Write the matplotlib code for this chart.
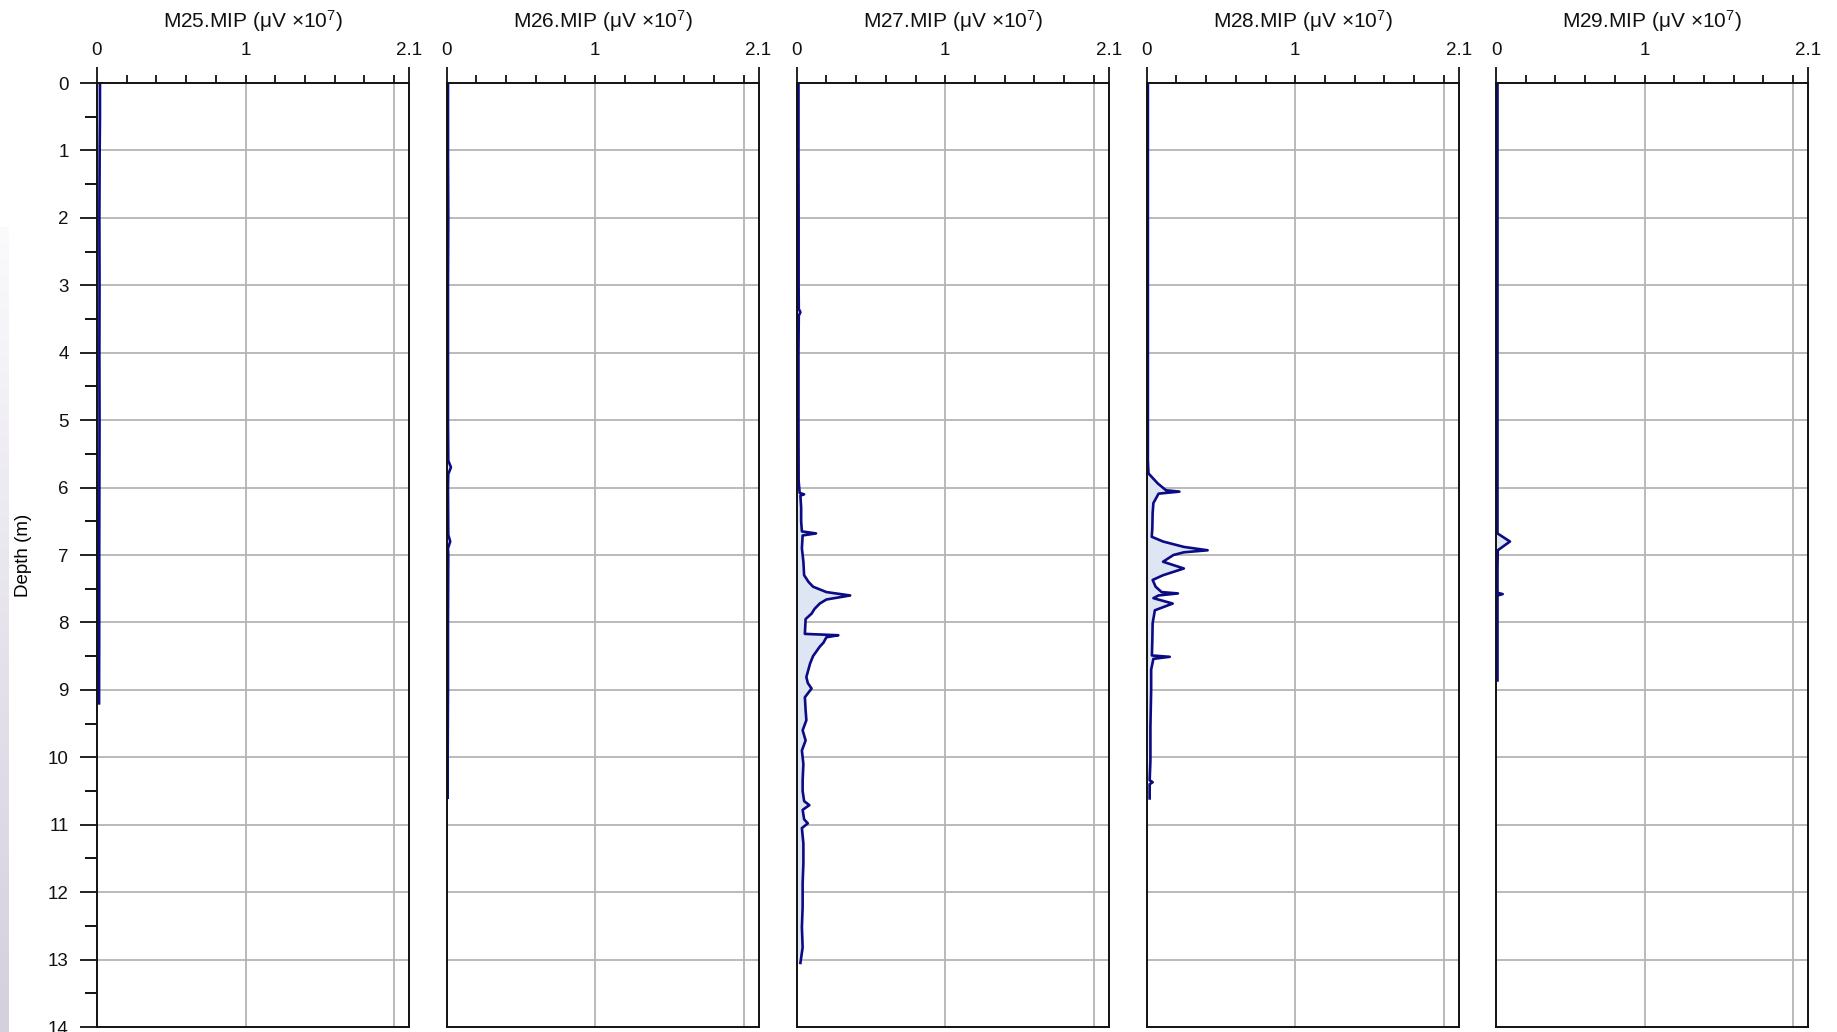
import matplotlib
matplotlib.use('Agg')
import matplotlib.pyplot as plt
from matplotlib.colors import LinearSegmentedColormap
import numpy as np

plt.rcParams['font.family'] = ['Liberation Sans', 'DejaVu Sans']
plt.rcParams['mathtext.default'] = 'regular'

# --- data (depth in m, value in uV x 10^7) ---
names = ['M25.MIP', 'M26.MIP', 'M27.MIP', 'M28.MIP', 'M29.MIP']

m25_depth = [0, 0.5, 1, 2, 3, 4, 5, 6, 7, 8, 9, 9.2]
m25_val = [0.02, 0.02, 0.018, 0.016, 0.017, 0.016, 0.017, 0.016, 0.015, 0.015, 0.014, 0.014]

m26_depth = [0, 1, 2, 3, 4, 5, 5.6, 5.7, 5.8, 6, 6.7, 6.8, 6.9, 7, 8, 9, 10, 10.6]
m26_val = [0.01, 0.01, 0.012, 0.01, 0.01, 0.01, 0.012, 0.03, 0.012, 0.01, 0.012, 0.025, 0.01,
           0.012, 0.01, 0.01, 0.008, 0.008]

m27_depth = [0, 1, 2, 3, 3.35, 3.4, 3.45, 4, 5, 5.9, 6.08, 6.1, 6.12, 6.3, 6.5, 6.65, 6.68, 6.71,
             6.9, 7.1, 7.3, 7.4, 7.47, 7.55, 7.6, 7.66, 7.72, 7.8, 7.87, 7.95, 8.17, 8.19, 8.22,
             8.3, 8.36, 8.5, 8.61, 8.81, 8.9, 8.98, 9.11, 9.3, 9.45, 9.6, 9.75, 9.9, 10.1, 10.34,
             10.5, 10.65, 10.71, 10.78, 10.92, 10.98, 11.05, 11.28, 11.57, 11.87, 12.22, 12.52,
             12.82, 13.05]
m27_val = [0.012, 0.012, 0.013, 0.013, 0.014, 0.025, 0.014, 0.012, 0.012, 0.013, 0.02, 0.05,
           0.025, 0.03, 0.03, 0.035, 0.13, 0.04, 0.035, 0.045, 0.05, 0.08, 0.11, 0.2, 0.36, 0.2,
           0.155, 0.12, 0.10, 0.06, 0.055, 0.28, 0.2, 0.18, 0.155, 0.11, 0.09, 0.065, 0.075, 0.10,
           0.055, 0.06, 0.065, 0.04, 0.06, 0.035, 0.045, 0.04, 0.04, 0.05, 0.085, 0.04, 0.05,
           0.075, 0.035, 0.045, 0.045, 0.04, 0.04, 0.035, 0.04, 0.025]

m28_depth = [0, 1, 2, 3, 4, 5, 5.59, 5.79, 5.94, 6.04, 6.06, 6.09, 6.23, 6.38, 6.6, 6.73, 6.8,
             6.88, 6.93, 6.96, 7.0, 7.1, 7.2, 7.3, 7.37, 7.47, 7.55, 7.57, 7.6, 7.64, 7.72, 7.82,
             8.01, 8.26, 8.49, 8.51, 8.54, 8.7, 9.0, 9.55, 10.05, 10.34, 10.37, 10.4, 10.61]
m28_val = [0.008, 0.008, 0.008, 0.008, 0.008, 0.008, 0.008, 0.012, 0.075, 0.13, 0.22, 0.08,
           0.045, 0.04, 0.038, 0.034, 0.11, 0.25, 0.41, 0.25, 0.18, 0.11, 0.25, 0.11, 0.04,
           0.06, 0.1, 0.21, 0.08, 0.045, 0.175, 0.055, 0.04, 0.038, 0.035, 0.155, 0.045, 0.03,
           0.03, 0.025, 0.025, 0.02, 0.04, 0.02, 0.02]

m29_depth = [0, 1, 2, 3, 4, 5, 6, 6.68, 6.8, 6.93, 7.2, 7.5, 7.56, 7.58, 7.6, 8, 8.5, 8.86]
m29_val = [0.01, 0.01, 0.01, 0.01, 0.01, 0.01, 0.01, 0.01, 0.094, 0.012, 0.01, 0.01, 0.01,
           0.045, 0.01, 0.01, 0.01, 0.01]

depths = [m25_depth, m26_depth, m27_depth, m28_depth, m29_depth]
vals = [m25_val, m26_val, m27_val, m28_val, m29_val]

xmax = 2.1
ymax = 14

W, H = 1837, 1032
fig = plt.figure(figsize=(W / 100, H / 100), dpi=100)

# faint strip on the far left of the screenshot
strip = fig.add_axes([0, 0, 9 / W, 0.78])
cm = LinearSegmentedColormap.from_list('strip', ['#d4d0de', '#e6e3ec', '#fafafc'])
strip.imshow(np.linspace(0, 1, 50).reshape(-1, 1), aspect='auto', cmap=cm, origin='lower')
strip.axis('off')

lefts = [97, 446.5, 796.7, 1146.7, 1496]
ax_w = 312
ax_top = 83
ax_bot = 1027

for i in range(5):
    ax = fig.add_axes([lefts[i] / W, 1 - ax_bot / H, ax_w / W, (ax_bot - ax_top) / H])
    d = np.array(depths[i])
    v = np.array(vals[i])
    ax.fill_betweenx(d, 0, v, color='#dfe6f3', lw=0)
    ax.plot(v, d, color='#0b0b85', lw=1.9)

    ax.set_xlim(0, xmax)
    ax.set_ylim(ymax, 0)

    # grid
    for gx in [1, 2]:
        ax.axvline(gx, color='#b4b4b4', lw=1.3, zorder=0)
    for gy in range(1, ymax):
        ax.axhline(gy, color='#b4b4b4', lw=1.3, zorder=0)

    for s in ax.spines.values():
        s.set_color('#111111')
        s.set_linewidth(1.4)

    ax.xaxis.tick_top()
    ax.set_xticks([0, xmax], labels=['0', '2.1'])
    minor = [0.2, 0.4, 0.6, 0.8, 1.0, 1.2, 1.4, 1.6, 1.8, 2.0]
    ax.set_xticks(minor, minor=True, labels=['' if m != 1.0 else '1' for m in minor])
    ax.tick_params(axis='x', which='major', length=11.5, width=1.3, pad=6, labelsize=13.5,
                   colors='#111111', top=True, bottom=False)
    ax.tick_params(axis='x', which='minor', length=5.5, width=1.3, pad=12, labelsize=13.5,
                   colors='#111111', top=True, bottom=False)

    if i == 0:
        ax.set_yticks(range(0, ymax + 1))
        ax.set_yticks(np.arange(0.5, ymax, 1.0), minor=True)
        ax.tick_params(axis='y', which='major', length=12.5, width=1.3, pad=8, labelsize=13.5,
                       colors='#111111')
        ax.tick_params(axis='y', which='minor', length=8.5, width=1.3)
        ax.set_ylabel('Depth (m)', fontsize=13.5, labelpad=11)
    else:
        ax.set_yticks([])

    ax.set_title(names[i] + r' ($\mu$V $\times$10$^{7}$)', fontsize=15, pad=40,
                 color='#111111')

fig.savefig('out.png', dpi=100)
